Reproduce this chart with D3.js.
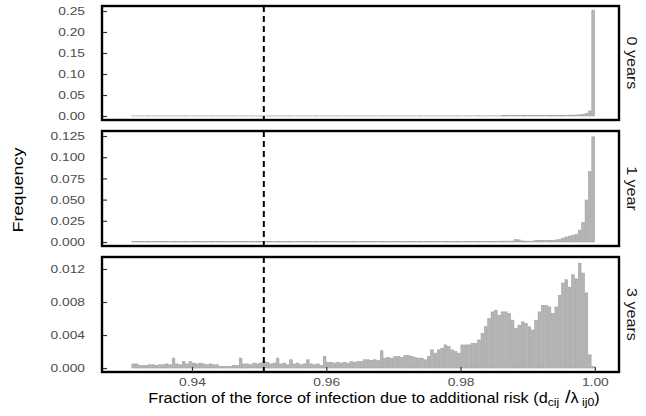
<!DOCTYPE html>
<html>
<head>
<meta charset="utf-8">
<script src="https://cdn.jsdelivr.net/npm/d3@7"></script>
<style>
  body { margin: 0; background: #fff; }
  svg { font-family: "Liberation Sans", Arial, sans-serif; display: block; }
</style>
</head>
<body>
<script>
// histogram bins: 138 bins of width 0.0005 starting at 0.931
const binStart = 0.931;
const binWidth = 0.0005;

// frequencies per bin (listed in units of 1e-4)
const freq0 = [
  3,3,3,3,3,3,3,3,3,3, 3,3,3,3,3,3,3,3,3,3,
  3,3,3,3,3,3,3,3,3,3, 3,3,3,3,3,3,3,3,3,3,
  3,3,3,3,3,3,3,3,3,3, 3,3,3,3,3,3,3,3,3,3,
  3,3,3,3,3,3,3,3,3,3, 3,3,3,3,3,3,3,3,3,3,
  3,3,3,3,3,3,3,3,3,3, 3,3,3,3,3,3,3,3,3,3,
  4,4,4,4,4,4,4,4,4,4, 8,8,8,8,8,8,8,8,8,8,
  10,10,10,10,10,10,10,12,15,15, 20,20,25,30,40,60,120,2520
];
const freq1 = [
  5,5,5,5,5,5,5,5,5,5, 5,5,5,5,5,5,5,5,5,5,
  5,5,5,5,5,5,5,5,5,5, 5,5,5,5,5,5,5,5,5,5,
  5,5,5,5,5,5,5,5,5,5, 5,5,5,5,5,5,5,5,5,5,
  5,5,5,5,5,5,5,5,5,5, 5,5,5,5,5,5,5,5,5,5,
  5,5,5,5,5,5,5,5,5,5, 5,5,5,5,5,5,5,5,5,5,
  8,8,8,8,8,8,8,8,8,10, 10,10,10,12,30,25,12,10,10,10,
  20,20,20,20,20,20,25,30,45,60, 70,80,90,140,230,495,830,1240
];
const freq3 = [
  5,5,3,3,3,4,4,3,4,4, 5,4,12,5,4,8,5,8,6,5,
  6,5,4,5,4,4,2,2,2,2, 3,3,12,5,5,4,6,5,6,8,
  7,5,6,12,5,6,4,10,5,6, 4,5,10,5,4,5,3,14,7,7,
  6,7,6,7,6,8,7,8,8,10, 10,9,10,9,21,12,13,12,14,14,
  13,15,15,14,13,12,12,10,14,22, 18,22,24,28,26,22,20,18,28,28,
  28,30,30,34,42,50,60,68,70,64, 68,68,66,58,48,52,56,54,50,46,
  58,68,76,76,74,66,74,88,103,107, 98,113,108,127,115,91,16,2
];

const panelLabels = ["0 years", "1 year", "3 years"];
const yTicks0 = [0, 0.05, 0.10, 0.15, 0.20, 0.25];
const yTicks1 = [0, 0.025, 0.050, 0.075, 0.100, 0.125];
const yTicks3 = [0, 0.004, 0.008, 0.012];
const xTicks = [0.94, 0.96, 0.98, 1.00];
const cutoff = 0.9507;

const width = 646, height = 416;
const left = 102, right = 619;
const stretch = 1.2; // text in the picture is wider than the font

const panels = [
  { data: freq0, ticks: yTicks0, fmt: ".2f", top: 6,   bottom: 120, domain: [-0.0095, 0.2619], label: panelLabels[0] },
  { data: freq1, ticks: yTicks1, fmt: ".3f", top: 131, bottom: 246, domain: [-0.0047, 0.1309], label: panelLabels[1] },
  { data: freq3, ticks: yTicks3, fmt: ".3f", top: 257, bottom: 372, domain: [-0.00048, 0.01345], label: panelLabels[2] }
];

const svg = d3.select("body").append("svg")
  .attr("width", width)
  .attr("height", height);

const x = d3.scaleLinear()
  .domain([0.9266, 1.0036])
  .range([left, right]);

panels.forEach(p => {
  const y = d3.scaleLinear().domain(p.domain).range([p.bottom, p.top]);
  const g = svg.append("g");

  g.selectAll("rect.bar")
    .data(p.data)
    .enter()
    .append("rect")
    .attr("class", "bar")
    .attr("x", (d, i) => x(binStart + i * binWidth) + 0.35)
    .attr("width", x(binStart + binWidth) - x(binStart) - 0.7)
    .attr("y", d => y(d * 1e-4))
    .attr("height", d => y(0) - y(d * 1e-4))
    .attr("fill", "#b5b5b5")
    .attr("stroke", "#a0a0a0")
    .attr("stroke-width", 0.6);

  // dashed cutoff line
  g.append("line")
    .attr("x1", x(cutoff)).attr("x2", x(cutoff))
    .attr("y1", p.top).attr("y2", p.bottom)
    .attr("stroke", "#000")
    .attr("stroke-width", 2)
    .attr("stroke-dasharray", "6,4");

  // y axis, ticks pointing inward
  const ya = g.append("g")
    .attr("transform", `translate(${left},0)`)
    .call(d3.axisLeft(y).tickValues(p.ticks).tickFormat(d3.format(p.fmt)).tickSize(-5));
  ya.select(".domain").remove();
  ya.selectAll(".tick line").attr("stroke", "#333").attr("stroke-width", 1.2);
  ya.selectAll(".tick text")
    .attr("x", -17 / stretch)
    .attr("transform", `scale(${stretch},1)`)
    .attr("fill", "#4d4d4d")
    .style("font-size", "11.5px");

  // panel border
  g.append("rect")
    .attr("x", left).attr("y", p.top)
    .attr("width", right - left).attr("height", p.bottom - p.top)
    .attr("fill", "none")
    .attr("stroke", "#000")
    .attr("stroke-width", 2.4);

  // strip label
  g.append("text")
    .attr("transform", `translate(632,${(p.top + p.bottom) / 2}) rotate(90) scale(1.15,1)`)
    .attr("text-anchor", "middle")
    .attr("dy", "0.35em")
    .style("font-size", "14px")
    .attr("fill", "#1a1a1a")
    .text(p.label);
});

// x axis on bottom panel
const last = panels[2];
const xa = svg.append("g")
  .attr("transform", `translate(0,${last.bottom})`)
  .call(d3.axisBottom(x).tickValues(xTicks).tickFormat(d3.format(".2f")).tickSize(-5).tickPadding(6));
xa.select(".domain").remove();
xa.selectAll(".tick line").attr("stroke", "#333").attr("stroke-width", 1.2);
xa.selectAll(".tick text")
  .attr("transform", `scale(${stretch},1)`)
  .attr("fill", "#4d4d4d")
  .style("font-size", "11.5px");

// axis titles
svg.append("text")
  .attr("transform", "translate(23,190) rotate(-90) scale(1.2,1)")
  .attr("text-anchor", "middle")
  .style("font-size", "15px")
  .text("Frequency");

const xt = svg.append("text")
  .attr("transform", "translate(374,403) scale(1.12,1)")
  .attr("text-anchor", "middle")
  .style("font-size", "14.5px");
xt.append("tspan").text("Fraction of the force of infection due to additional risk (d");
xt.append("tspan").attr("dy", 3).style("font-size", "11px").text("cij");
xt.append("tspan").attr("dy", -3).style("font-size", "18px").text(" /");
xt.append("tspan").text("λ");
xt.append("tspan").attr("dy", 3).style("font-size", "11px").text(" ij0");
xt.append("tspan").attr("dy", -3).text(")");
</script>
</body>
</html>
